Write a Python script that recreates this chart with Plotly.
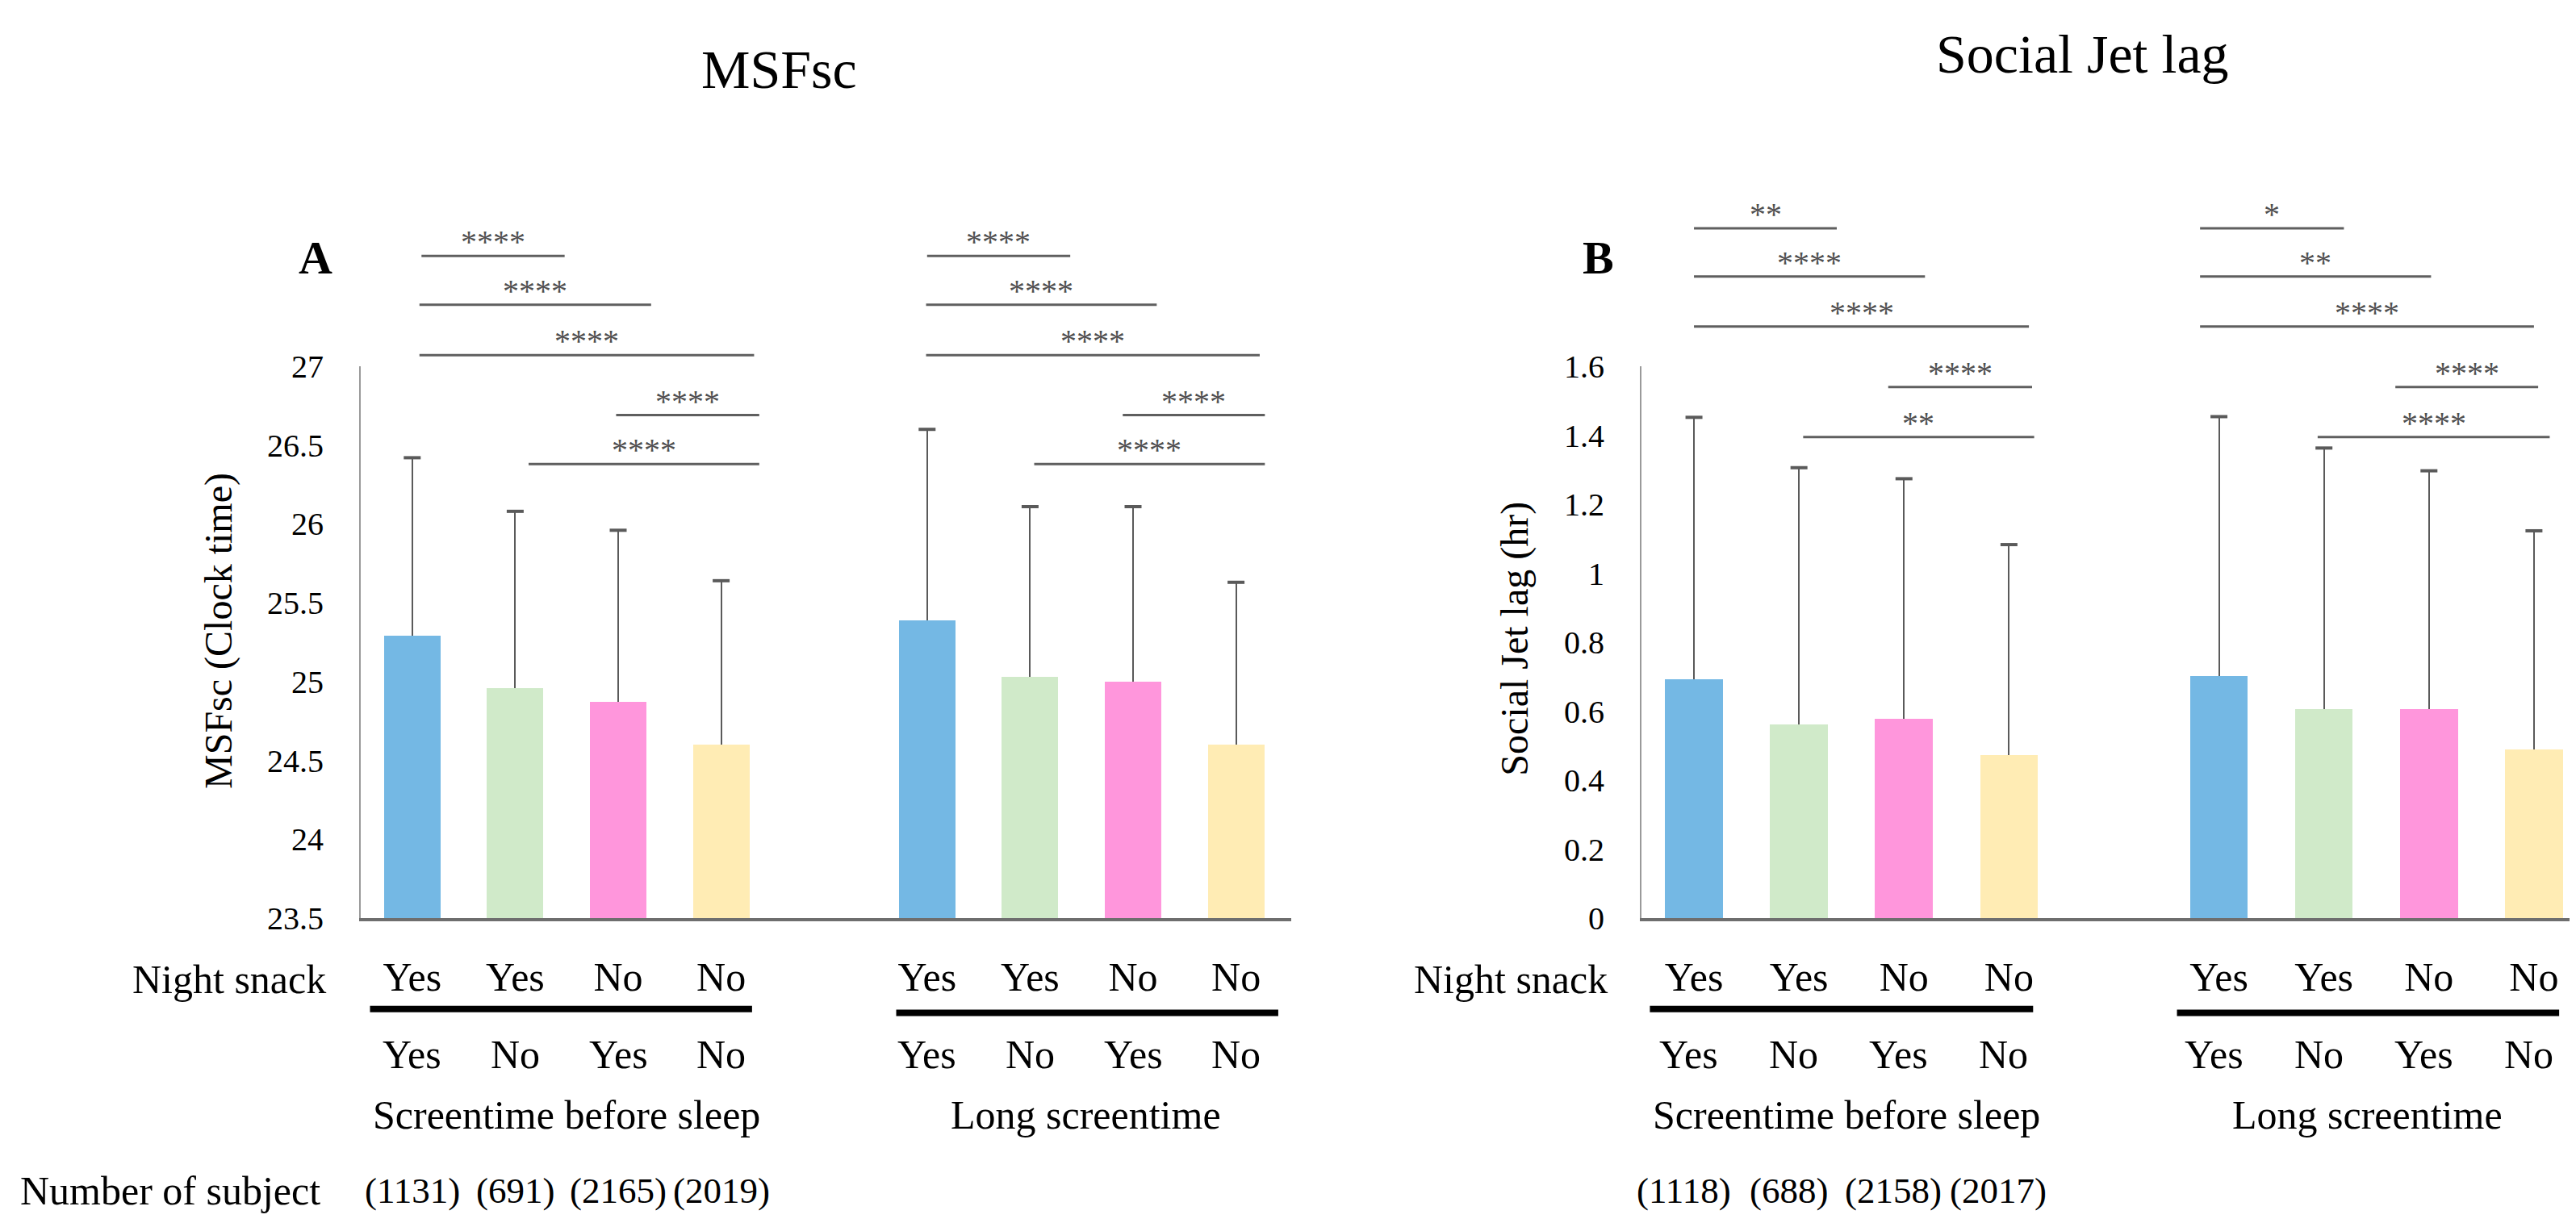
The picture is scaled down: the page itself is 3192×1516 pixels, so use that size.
import plotly.graph_objects as go

W, H = 3192, 1516
FONT = "Liberation Serif"

# ---------------- data ----------------
positions = [0, 1, 2, 3, 5, 6, 7, 8]
night_snack = ["Yes", "Yes", "No", "No", "Yes", "Yes", "No", "No"]
screen_flag = ["Yes", "No", "Yes", "No", "Yes", "No", "Yes", "No"]
group_names = ["Screentime before sleep", "Long screentime"]
bar_colors = ["#74B8E4", "#D0EAC9", "#FF96DC", "#FFECB4"] * 2

msf_mean = [25.29, 24.96, 24.87, 24.60, 25.39, 25.03, 25.00, 24.60]
msf_sd = [1.13, 1.12, 1.09, 1.04, 1.21, 1.08, 1.11, 1.03]
sjl_mean = [0.692, 0.562, 0.578, 0.473, 0.703, 0.607, 0.605, 0.489]
sjl_sd = [0.760, 0.744, 0.696, 0.610, 0.751, 0.756, 0.692, 0.634]

n_msf = ["(1131)", "(691)", "(2165)", "(2019)"]
n_sjl = ["(1118)", "(688)", "(2158)", "(2017)"]

# significance comparisons (start, end, level, label)
msf_sig_start = [0.09, 0.07, 0.07, 1.98, 1.13, 5.00, 4.99, 4.99, 6.90, 6.04]
msf_sig_end = [1.48, 2.32, 3.32, 3.37, 3.37, 6.39, 7.23, 8.23, 8.28, 8.28]
msf_sig_level = [27.70, 27.39, 27.07, 26.69, 26.38, 27.70, 27.39, 27.07, 26.69, 26.38]
msf_sig_label = ["****"] * 10

sjl_sig_start = [0.0, 0.0, 0.0, 1.85, 1.04, 4.82, 4.82, 4.82, 6.68, 5.94]
sjl_sig_end = [1.36, 2.20, 3.19, 3.22, 3.24, 6.19, 7.02, 8.00, 8.04, 8.15]
sjl_sig_level = [2.00, 1.86, 1.715, 1.54, 1.395, 2.00, 1.86, 1.715, 1.54, 1.395]
sjl_sig_label = ["**", "****", "****", "****", "**", "*", "**", "****", "****", "****"]

# ---------------- layout geometry ----------------
def py(p):
    return 1 - p / H

def px(p):
    return p / W

Y_DOM = [py(1142), py(437)]
XA_DOM = [px(439), px(1592)]
XB_DOM = [px(2026), px(3179)]
ext = (1 - Y_DOM[0]) / (Y_DOM[1] - Y_DOM[0])

A_RANGE = [23.5, 27.0]
B_RANGE = [0.0, 1.6]
XA_RANGE = [-0.5, 8.536]
XB_RANGE = [-0.5, 8.362]

ERR_COLOR = "#5a5a5a"
SIG_COLOR = "#5f5f5f"

fig = go.Figure()


def add_panel(xa, ya, ya_ext, means, sds, sig_s, sig_e, sig_l):
    fig.add_trace(go.Bar(
        x=positions, y=means, width=0.55,
        marker=dict(color=bar_colors, line=dict(width=0)),
        error_y=dict(type="data", symmetric=False, array=sds,
                     arrayminus=[0] * len(sds), color=ERR_COLOR,
                     thickness=2, width=0),
        xaxis=xa, yaxis=ya, showlegend=False, hoverinfo="skip"))
    fig.add_trace(go.Scatter(
        x=positions, y=[m + s for m, s in zip(means, sds)], mode="markers",
        marker=dict(symbol="line-ew", size=15,
                    line=dict(width=4, color=ERR_COLOR)),
        xaxis=xa, yaxis=ya, showlegend=False, hoverinfo="skip",
        cliponaxis=False))
    xs, ys = [], []
    for s, e, l in zip(sig_s, sig_e, sig_l):
        xs += [s, e, None]
        ys += [l, l, None]
    fig.add_trace(go.Scatter(
        x=xs, y=ys, mode="lines", line=dict(color=SIG_COLOR, width=3),
        xaxis=xa, yaxis=ya_ext, showlegend=False, hoverinfo="skip"))


add_panel("x", "y", "y3", msf_mean, msf_sd, msf_sig_start, msf_sig_end, msf_sig_level)
add_panel("x2", "y2", "y4", sjl_mean, sjl_sd, sjl_sig_start, sjl_sig_end, sjl_sig_level)

axis_common_x = dict(
    showgrid=False, zeroline=False, ticks="", showline=True,
    linecolor="#6e6e6e", linewidth=4, tickmode="array",
    tickvals=positions, ticktext=night_snack,
    tickfont=dict(family=FONT, size=50, color="black"),
    ticklabelstandoff=26, fixedrange=True)
axis_common_y = dict(
    showgrid=False, zeroline=False, ticks="", showline=True,
    linecolor="#9a9a9a", linewidth=2,
    tickfont=dict(family=FONT, size=40, color="black"),
    ticklabelstandoff=36, fixedrange=True)

fig.update_layout(
    width=W, height=H, autosize=False,
    margin=dict(l=0, r=0, t=0, b=0),
    paper_bgcolor="white", plot_bgcolor="rgba(0,0,0,0)",
    showlegend=False, bargap=0,
    xaxis=dict(domain=XA_DOM, range=XA_RANGE, anchor="y", **axis_common_x),
    xaxis2=dict(domain=XB_DOM, range=XB_RANGE, anchor="y2", **axis_common_x),
    yaxis=dict(domain=Y_DOM, range=A_RANGE, anchor="x", tick0=23.5, dtick=0.5,
               **axis_common_y),
    yaxis2=dict(domain=Y_DOM, range=B_RANGE, anchor="x2", tick0=0, dtick=0.2,
                **axis_common_y),
    yaxis3=dict(domain=[Y_DOM[0], 1.0],
                range=[A_RANGE[0], A_RANGE[0] + (A_RANGE[1] - A_RANGE[0]) * ext],
                anchor="x", visible=False, fixedrange=True),
    yaxis4=dict(domain=[Y_DOM[0], 1.0],
                range=[B_RANGE[0], B_RANGE[0] + (B_RANGE[1] - B_RANGE[0]) * ext],
                anchor="x2", visible=False, fixedrange=True),
)

annotations = []
shapes = []


def txt(text, x, y, size, xref="paper", yref="paper", xanchor="center",
        yanchor="middle", color="black", **kw):
    annotations.append(dict(text=text, x=x, y=y, xref=xref, yref=yref,
                            xanchor=xanchor, yanchor=yanchor, showarrow=False,
                            font=dict(family=FONT, size=size, color=color), **kw))


# significance labels
for s, e, l, lab in zip(msf_sig_start, msf_sig_end, msf_sig_level, msf_sig_label):
    txt(lab, (s + e) / 2, l, 40, xref="x", yref="y3", yanchor="bottom",
        color="#505050", yshift=-7)
for s, e, l, lab in zip(sjl_sig_start, sjl_sig_end, sjl_sig_level, sjl_sig_label):
    txt(lab, (s + e) / 2, l, 40, xref="x2", yref="y4", yanchor="bottom",
        color="#505050", yshift=-7)

# titles and panel letters
txt("MSFsc", px(957), py(58), 68)
txt("Social Jet lag", px(2572), py(38), 68)
txt("<b>A</b>", px(383), py(298), 58)
txt("<b>B</b>", px(1972), py(298), 58)

# y-axis titles
txt("MSFsc (Clock time)", px(263), py(775), 48, textangle=-90)
txt("Social Jet lag (hr)", px(1869), py(785), 48, textangle=-90)

# row labels
txt("Night snack", px(398), py(1220), 50, xanchor="right")
txt("Night snack", px(1986), py(1220), 50, xanchor="right")
txt("Number of subject", px(15), py(1490), 50, xanchor="left")

for xa, offset, group_x, nums in [
        ("x", 0.0, [1.5, 6.54], n_msf),
        ("x2", -0.05, [1.45, 6.41], n_sjl)]:
    for p, lab in zip(positions, screen_flag):
        txt(lab, p + offset, py(1316), 50, xref=xa)
    for gx, gname in zip(group_x, group_names):
        txt(gname, gx, py(1393), 50, xref=xa)
    for p, lab in zip(positions[:4], nums):
        txt(lab, p + 2 * offset, py(1490), 45, xref=xa)

# thick separators under the Night snack row
for xa, spans, ys in [("x", [(-0.41, 3.30), (4.70, 8.41)], [py(1258), py(1263)]),
                      ("x2", [(-0.42, 3.23), (4.60, 8.24)], [py(1258), py(1263)])]:
    for (a, b), yy in zip(spans, ys):
        shapes.append(dict(type="line", xref=xa, yref="paper", x0=a, x1=b,
                           y0=yy, y1=yy, line=dict(color="black", width=8)))

fig.update_layout(annotations=annotations, shapes=shapes)
fig.write_html("out.html")
